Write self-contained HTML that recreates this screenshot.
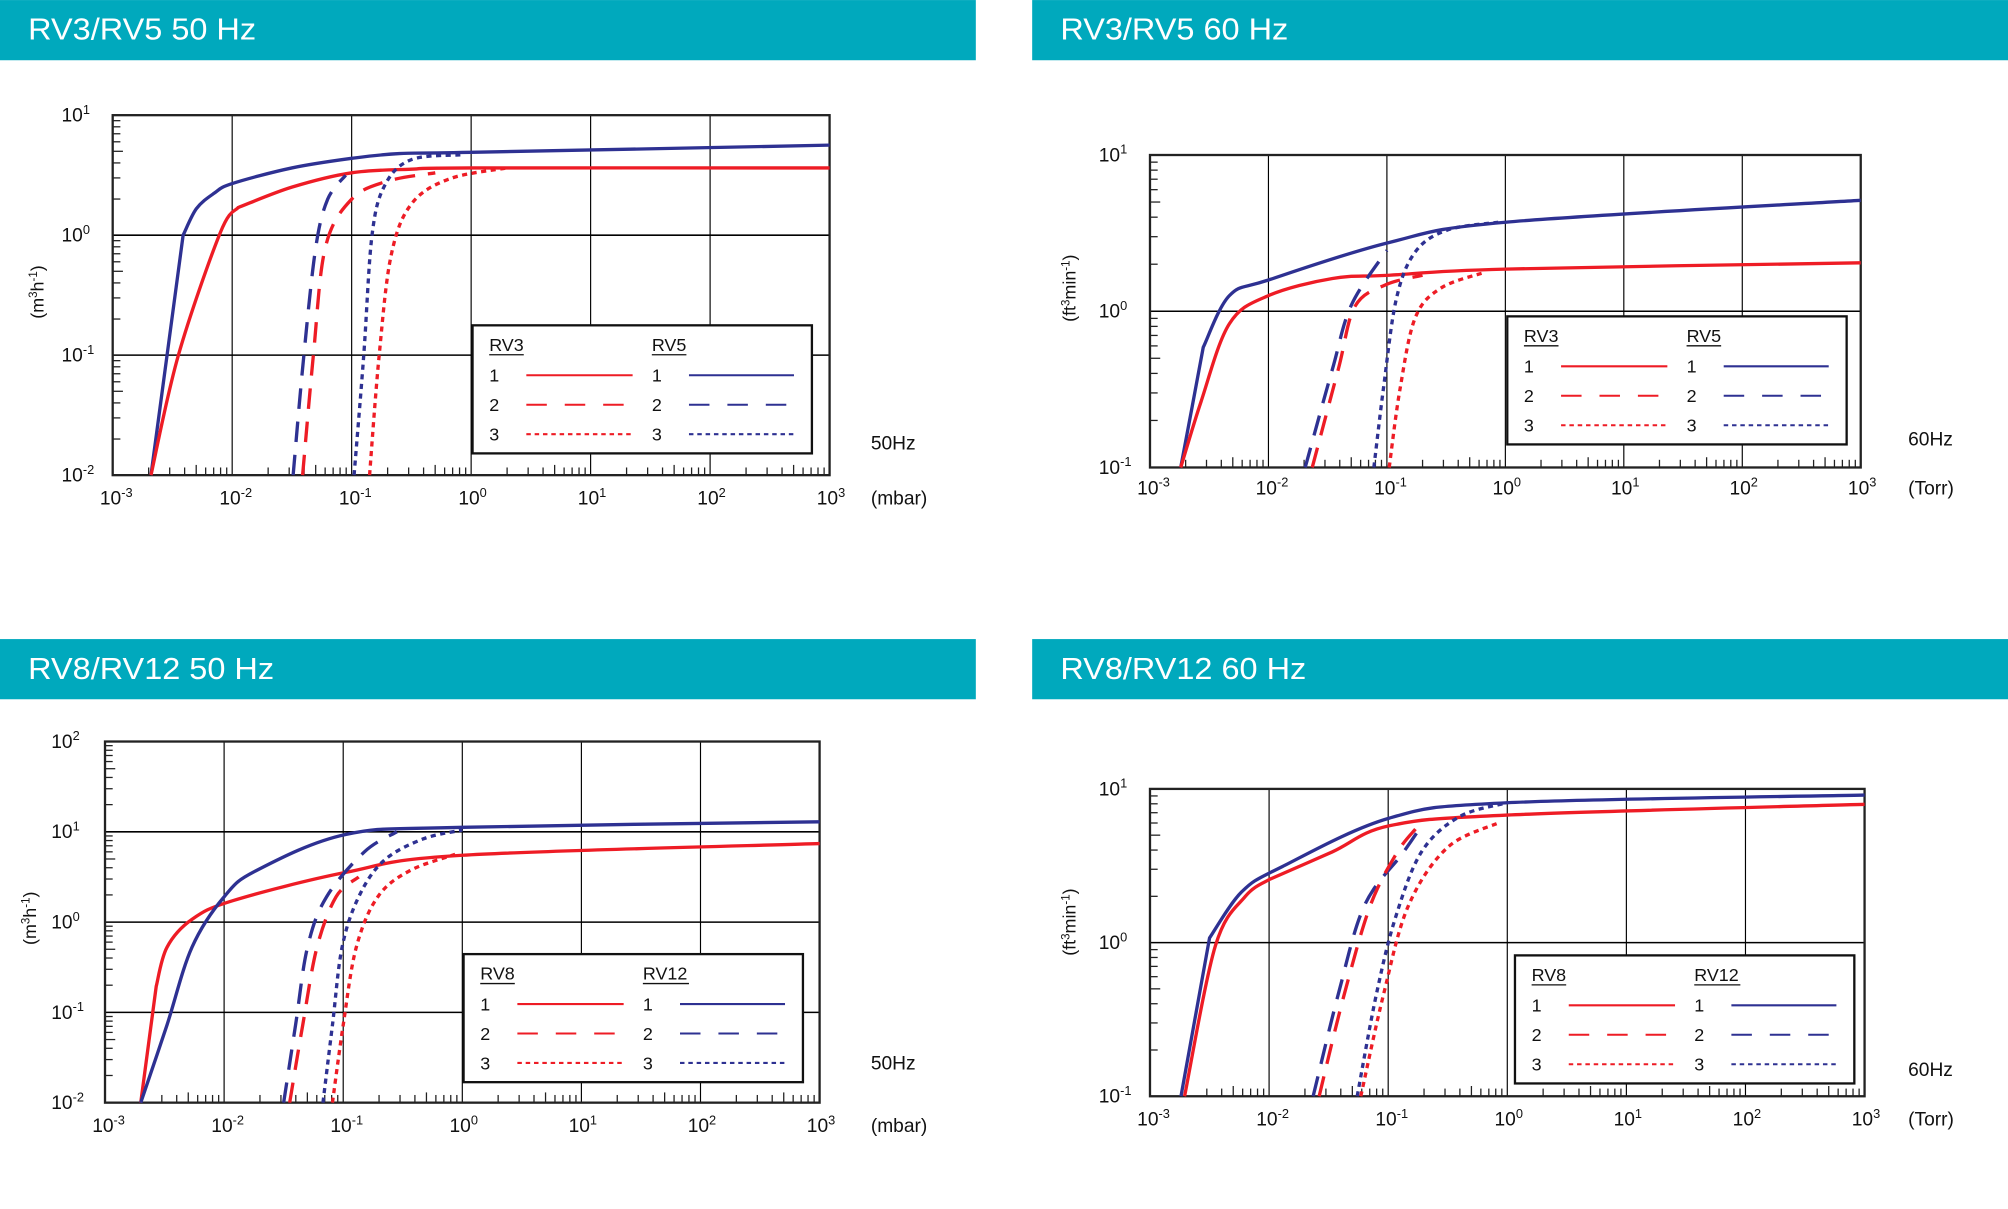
<!DOCTYPE html>
<html><head><meta charset="utf-8"><style>
html,body{margin:0;padding:0;background:#fff;}
svg{display:block}
text{font-family:"Liberation Sans",sans-serif;}
</style></head><body>
<svg id="s" width="2008" height="1209" viewBox="0 0 1568 944" xmlns="http://www.w3.org/2000/svg">
<rect width="1568" height="944" fill="#fff"/>
<rect x="0" y="0" width="762" height="47" fill="#00a9bd"/>
<rect x="806" y="0" width="762" height="47" fill="#00a9bd"/>
<rect x="0" y="499" width="762" height="47" fill="#00a9bd"/>
<rect x="806" y="499" width="762" height="47" fill="#00a9bd"/>
<g fill="#fff" font-size="24">
<text x="22" y="31" textLength="178" lengthAdjust="spacingAndGlyphs">RV3/RV5 50 Hz</text>
<text x="828" y="31" textLength="178" lengthAdjust="spacingAndGlyphs">RV3/RV5 60 Hz</text>
<text x="22" y="530" textLength="192" lengthAdjust="spacingAndGlyphs">RV8/RV12 50 Hz</text>
<text x="828" y="530" textLength="192" lengthAdjust="spacingAndGlyphs">RV8/RV12 60 Hz</text>
</g>
</svg>
<script>
var S=document.getElementById('s'),NS='http://www.w3.org/2000/svg';
function el(t,a,txt){var e=document.createElementNS(NS,t);for(var k in a)e.setAttribute(k,a[k]);if(txt!=null)e.textContent=txt;S.appendChild(e);return e;}
var RED='#ee1c25',BLUE='#2e3192';
function pow(x,y,base,exp,fs){var t=el('text',{x:x,y:y,'font-size':fs||15,fill:'#111'});
 var a=document.createElementNS(NS,'tspan');a.textContent=base;t.appendChild(a);
 var b=document.createElementNS(NS,'tspan');b.setAttribute('dy',-6);b.setAttribute('font-size',10);b.textContent=exp;t.appendChild(b);}
function smooth(pts){var d='';
 for(var i=0;i<pts.length-1;i++){var p0=pts[i-1]||pts[i],p1=pts[i],p2=pts[i+1],p3=pts[i+2]||p2;
  var c1=[p1[0]+(p2[0]-p0[0])/6,p1[1]+(p2[1]-p0[1])/6],c2=[p2[0]-(p3[0]-p1[0])/6,p2[1]-(p3[1]-p1[1])/6];
  d+=' C'+c1[0].toFixed(1)+','+c1[1].toFixed(1)+' '+c2[0].toFixed(1)+','+c2[1].toFixed(1)+' '+p2[0].toFixed(1)+','+p2[1].toFixed(1);}
 return d;}
function path(pts,c,dash){
 var d='M'+pts[0][0].toFixed(1)+','+pts[0][1].toFixed(1);
 var seg=[pts[0]];
 for(var i=1;i<pts.length;i++){seg.push(pts[i]);if(pts[i][2]){d+=smooth(seg);seg=[pts[i]];}}
 if(seg.length>1)d+=smooth(seg);
 var a={d:d,fill:'none',stroke:c,'stroke-width':2.6};if(dash)a['stroke-dasharray']=dash;el('path',a);}
var DASH='16 10',DOT='4 3.5';
function chart(o){
 var X=function(l){return o.x0+(l+3)*o.dx;},Y=function(l){return o.y0-(l-o.ymin)*o.dy;};
 var x1=X(3),yt=Y(o.ymax),yb=Y(o.ymin);
 for(var i=-2;i<=2;i++)el('line',{x1:X(i),x2:X(i),y1:yt,y2:yb,stroke:'#000','stroke-width':0.9});
 for(var j=o.ymin+1;j<o.ymax;j++)el('line',{x1:o.x0,x2:x1,y1:Y(j),y2:Y(j),stroke:'#000','stroke-width':1.2});
 for(var i=-3;i<3;i++)for(var m=2;m<10;m++){var xx=X(i+Math.log10(m));el('line',{x1:xx,x2:xx,y1:yb,y2:yb-(m==5?8:6),stroke:'#222','stroke-width':1});}
 for(var j=o.ymin;j<o.ymax;j++)for(var m=2;m<10;m++){var yy=Y(j+Math.log10(m));el('line',{x1:o.x0,x2:o.x0+(m==5?8:6),y1:yy,y2:yy,stroke:'#222','stroke-width':1});}
 el('rect',{x:o.x0,y:yt,width:x1-o.x0,height:yb-yt,fill:'none',stroke:'#222','stroke-width':1.8});
 o.curves.forEach(function(c){path(c[2].map(function(p){return [X(p[0]),Y(p[1]),p[2]];}),c[0],c[1]);});
 for(var i=-3;i<=3;i++)pow(X(i)-10,o.xly,'10',i<0?'-'+(-i):''+i);
 for(var j=o.ymin;j<=o.ymax;j++)pow(o.yl,Y(j)+5,'10',j<0?'-'+(-j):''+j);
 el('text',{x:o.ux,y:o.xly,'font-size':15,fill:'#111'},o.unit);
 el('text',{x:o.ux,y:o.hzy,'font-size':15,fill:'#111'},o.hz);
 var t=el('text',{x:0,y:0,'font-size':14,fill:'#111',transform:'translate('+o.tx+','+o.ty+') rotate(-90)','text-anchor':'middle'});
 t.innerHTML=o.title;
 var L=o.leg;el('rect',{x:L[0],y:L[1],width:265,height:100,fill:'#fff',stroke:'#111','stroke-width':1.8});
 var lx=L[0],ly=L[1];
 el('text',{x:lx+13,y:ly+20,'font-size':14,fill:'#111'},o.n1);
 el('text',{x:lx+140,y:ly+20,'font-size':14,fill:'#111'},o.n2);
 el('line',{x1:lx+13,x2:lx+13+o.n1.length*9,y1:ly+23,y2:ly+23,stroke:'#111'});
 el('line',{x1:lx+140,x2:lx+140+o.n2.length*9,y1:ly+23,y2:ly+23,stroke:'#111'});
 [['',0],[DASH,1],[DOT,2]].forEach(function(r,k){var yy=ly+39+k*23;
  el('text',{x:lx+13,y:yy+5,'font-size':14,fill:'#111'},''+(k+1));
  el('text',{x:lx+140,y:yy+5,'font-size':14,fill:'#111'},''+(k+1));
  var a={x1:lx+42,x2:lx+125,y1:yy,y2:yy,stroke:RED,'stroke-width':1.6};if(r[0])a['stroke-dasharray']=k==1?'16 14':'3.5 3';el('line',a);
  var b={x1:lx+169,x2:lx+251,y1:yy,y2:yy,stroke:BLUE,'stroke-width':1.6};if(r[0])b['stroke-dasharray']=k==1?'16 14':'3.5 3';el('line',b);});
}
var M3='(m<tspan dy="-5" font-size="9">3</tspan><tspan dy="5">h</tspan><tspan dy="-5" font-size="9">-1</tspan><tspan dy="5">)</tspan>';
var F3='(ft<tspan dy="-5" font-size="9">3</tspan><tspan dy="5">min</tspan><tspan dy="-5" font-size="9">-1</tspan><tspan dy="5">)</tspan>';
chart({x0:88,dx:93.3,y0:371,ymin:-2,ymax:1,dy:93.7,xly:394,yl:48,ux:680,hzy:351,unit:'(mbar)',hz:'50Hz',tx:34,ty:228,title:M3,leg:[369,254],n1:'RV3',n2:'RV5',
curves:[
[BLUE,'',[[-2.68,-2],[-2.41,0,1],[-2.3,0.22],[-2.15,0.35],[-2,0.43],[-1.5,0.56],[-1,0.64],[-0.6,0.68],[0,0.69],[3,0.75]]],
[RED,'',[[-2.68,-2],[-2.45,-1],[-2.1,0.02],[-1.95,0.23,1],[-1.5,0.4],[-1,0.52],[-0.5,0.55],[0,0.56],[3,0.56]]],
[BLUE,DASH,[[-1.49,-2],[-1.4,-1],[-1.3,-0.1],[-1.2,0.3],[-1.05,0.5]]],
[RED,DASH,[[-1.41,-2],[-1.32,-1],[-1.22,-0.1],[-1.0,0.3],[-0.7,0.45],[-0.3,0.52]]],
[BLUE,DOT,[[-0.98,-2],[-0.9,-1.02],[-0.83,0],[-0.72,0.42],[-0.5,0.63],[-0.08,0.67]]],
[RED,DOT,[[-0.85,-2],[-0.77,-1],[-0.67,-0.17],[-0.5,0.26],[-0.18,0.47],[0.3,0.56]]]]});
chart({x0:898,dx:92.5,y0:365,ymin:-1,ymax:1,dy:122,xly:386,yl:858,ux:1490,hzy:348,unit:'(Torr)',hz:'60Hz',tx:840,ty:225,title:F3,leg:[1177,247],n1:'RV3',n2:'RV5',
curves:[
[BLUE,'',[[-2.74,-1],[-2.55,-0.23,1],[-2.33,0.1],[-2.0,0.2],[-0.98,0.44],[0,0.57],[3,0.71]]],
[RED,'',[[-2.74,-1],[-2.57,-0.58],[-2.33,-0.08],[-2,0.1],[-1.46,0.21],[-0.98,0.23],[0,0.27],[3,0.31]]],
[BLUE,DASH,[[-1.69,-1],[-1.46,-0.37],[-1.3,0.04],[-1.0,0.39]]],
[RED,DASH,[[-1.63,-1],[-1.41,-0.37],[-1.27,0.03],[-1.01,0.17],[-0.7,0.23]]],
[BLUE,DOT,[[-1.11,-1],[-1.03,-0.5],[-0.92,0.08],[-0.76,0.38],[-0.49,0.52],[-0.06,0.57]]],
[RED,DOT,[[-0.98,-1],[-0.89,-0.5],[-0.76,-0.04],[-0.54,0.15],[-0.17,0.25]]]]});
chart({x0:82,dx:93,y0:861,ymin:-2,ymax:2,dy:70.5,xly:884,yl:40,ux:680,hzy:835,unit:'(mbar)',hz:'50Hz',tx:28,ty:717,title:M3,leg:[362,745],n1:'RV8',n2:'RV12',
curves:[
[RED,'',[[-2.7,-2],[-2.57,-0.71,1],[-2.48,-0.28],[-2.27,0.03],[-1.92,0.24],[-0.98,0.55],[0,0.74],[3,0.87]]],
[BLUE,'',[[-2.7,-2],[-2.48,-1.14],[-2.27,-0.28],[-2,0.28],[-1.73,0.57],[-0.98,0.97],[0,1.05],[3,1.11]]],
[BLUE,DASH,[[-1.5,-2],[-1.4,-1.14],[-1.3,-0.28],[-1.14,0.28],[-0.82,0.78],[-0.55,1.0]]],
[RED,DASH,[[-1.45,-2],[-1.34,-1.14],[-1.22,-0.28],[-1.06,0.28],[-0.87,0.5]]],
[BLUE,DOT,[[-1.17,-2],[-1.09,-1.14],[-1.01,-0.28],[-0.87,0.28],[-0.66,0.68],[-0.33,0.92],[0,1.02]]],
[RED,DOT,[[-1.09,-2],[-1.0,-1.14],[-0.89,-0.28],[-0.71,0.28],[-0.44,0.57],[-0.06,0.75]]]]});
chart({x0:898,dx:93,y0:856,ymin:-1,ymax:1,dy:120,xly:879,yl:858,ux:1490,hzy:840,unit:'(Torr)',hz:'60Hz',tx:840,ty:720,title:F3,leg:[1183,746],n1:'RV8',n2:'RV12',
curves:[
[BLUE,'',[[-2.74,-1],[-2.5,0.03,1],[-2.23,0.33],[-1.9,0.49],[-0.99,0.81],[0,0.91],[3,0.96]]],
[RED,'',[[-2.71,-1],[-2.45,-0.02],[-2.2,0.3],[-2,0.41,1],[-1.47,0.59],[-0.99,0.76],[0,0.83],[3,0.9]]],
[BLUE,DASH,[[-1.63,-1],[-1.42,-0.34],[-1.2,0.24],[-0.88,0.58],[-0.72,0.76]]],
[RED,DASH,[[-1.58,-1],[-1.37,-0.34],[-1.15,0.24],[-0.93,0.58],[-0.77,0.74]]],
[BLUE,DOT,[[-1.26,-1],[-1.1,-0.34],[-0.94,0.16],[-0.72,0.59],[-0.4,0.82],[0,0.91]]],
[RED,DOT,[[-1.23,-1],[-1.04,-0.34],[-0.83,0.24],[-0.5,0.62],[-0.07,0.78]]]]});
</script>
</body></html>
